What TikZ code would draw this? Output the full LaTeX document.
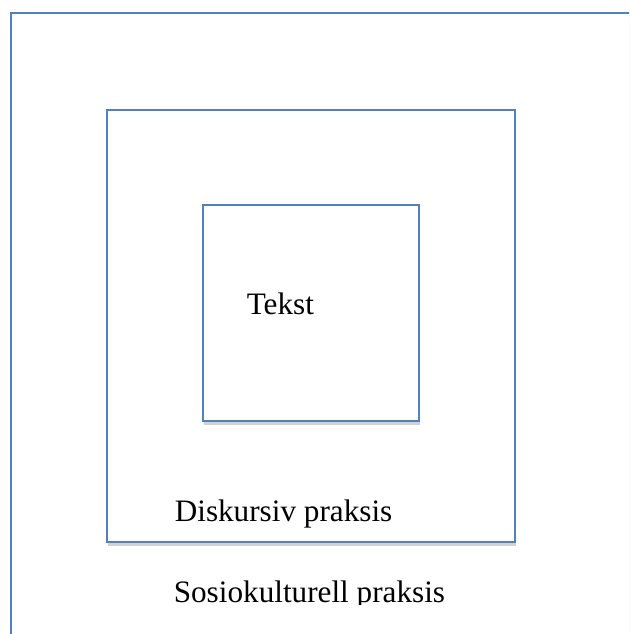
\documentclass[tikz,border=0pt]{standalone}
\usepackage{fontspec}
\setmainfont{Liberation Serif}
\usetikzlibrary{shadows}
\definecolor{rammeblaa}{RGB}{79,129,189}

\begin{document}
\begin{tikzpicture}[x=1pt, y=-1pt, line width=1.6pt,
    ramme/.style={draw=rammeblaa, fill=white, inner sep=0pt, anchor=north west,
        drop shadow={opacity=.35, shadow xshift=1pt, shadow yshift=-4pt}},
    etikett/.style={anchor=base west, inner sep=0pt,
        font=\fontsize{31.2}{36}\selectfont}]
    \useasboundingbox (0,0) rectangle (629,634);
    \clip (0,0) rectangle (629,634);

    % three frames, outermost runs off the page
    \node[ramme, minimum width=700pt, minimum height=700pt] (sosio) at (10,12) {};
    \node[ramme, minimum width=408pt, minimum height=432pt] (diskurs) at (106,109) {};
    \node[ramme, minimum width=216pt, minimum height=216pt] (tekst) at (202,204) {};

    \node[etikett] (tekstlabel) at (246,314) {Tekst};
    \node[etikett] (diskurslabel) at (174,521) {Diskursiv praksis};

    \begin{scope}
    \clip (0,0) rectangle (629,604);
    \node[etikett] (sosiolabel) at (173,602) {Sosiokulturell praksis};
    \end{scope}
\end{tikzpicture}
\end{document}
